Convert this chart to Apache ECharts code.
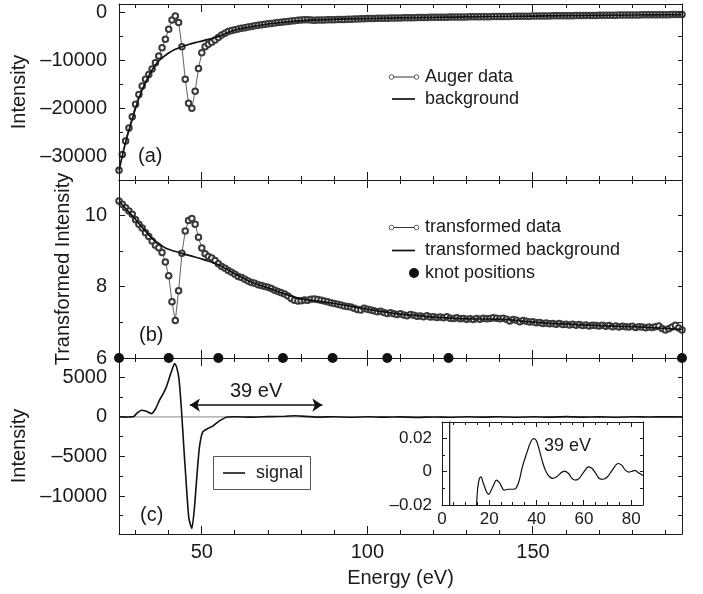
<!DOCTYPE html>
<html>
<head>
<meta charset="utf-8">
<script src="https://cdn.jsdelivr.net/npm/echarts@6/dist/echarts.min.js"></script>
<style>html,body{margin:0;padding:0;background:#fff}#chart{width:703px;height:594px}</style>
</head>
<body>
<div id="chart"></div>
<script>
// ---------- DATA ----------
const energy = [
25,26,27,28,29,30,31,32,33,34,35,36,37,38,39,40,41,42,43,44,
45,46,47,48,49,50,51,52,53,54,55,56,57,58,59,60,61,62,63,64,
65,66,67,68,69,70,71,72,73,74,75,76,77,78,79,80,81,82,83,84,
85,86,87,88,89,90,91,92,93,94,95,96,97,98,99,100,101,102,103,104,
105,106,107,108,109,110,111,112,113,114,115,116,117,118,119,120,121,122,123,124,
125,126,127,128,129,130,131,132,133,134,135,136,137,138,139,140,141,142,143,144,
145,146,147,148,149,150,151,152,153,154,155,156,157,158,159,160,161,162,163,164,
165,166,167,168,169,170,171,172,173,174,175,176,177,178,179,180,181,182,183,184,
185,186,187,188,189,190,191,192,193,194,195];

const augerData = [
-32800,-29500,-26700,-24000,-21700,-19100,-17050,-15300,-13900,-12900,
-11800,-10500,-9100,-7350,-5600,-3550,-1600,-800,-2150,-7150,
-13900,-18900,-19900,-16400,-11700,-8400,-7150,-6650,-6250,-5750,
-5250,-4750,-4350,-4000,-3820,-3650,-3500,-3350,-3200,-3080,
-2950,-2830,-2720,-2600,-2500,-2400,-2330,-2240,-2150,-2080,
-2000,-1930,-1850,-1760,-1680,-1620,-1580,-1590,-1620,-1650,
-1640,-1620,-1600,-1590,-1570,-1560,-1530,-1500,-1490,-1470,
-1450,-1420,-1400,-1370,-1350,-1330,-1310,-1300,-1280,-1260,
-1250,-1230,-1220,-1200,-1190,-1180,-1160,-1150,-1140,-1130,
-1120,-1100,-1090,-1080,-1070,-1060,-1050,-1045,-1035,-1030,
-1020,-1010,-1005,-995,-985,-975,-970,-960,-950,-945,
-935,-925,-920,-910,-900,-895,-885,-875,-870,-860,
-850,-845,-835,-825,-820,-810,-800,-795,-785,-780,
-770,-760,-755,-745,-735,-730,-720,-715,-705,-700,
-690,-680,-675,-665,-660,-650,-645,-635,-630,-620,
-615,-605,-600,-590,-585,-575,-570,-565,-555,-550,
-545,-535,-530,-525,-515,-510,-505,-500,-495,-490,-485];

const bgEnergy = [25,26,27,28,29,30,31,32,33,34,35,36,37,38,39,40,42,44,46,48,50,52,54,56,58,60,65,70,75,80,90,100,120,140,160,180,195];
const bgValues = [-32800,-29800,-27000,-24500,-22200,-19900,-17900,-16100,-14600,-13200,-12000,-11000,-10100,-9500,-8950,-8450,-7700,-7150,-6700,-6300,-6000,-5650,-5250,-4800,-4150,-3700,-3000,-2450,-2050,-1750,-1500,-1320,-1060,-890,-730,-580,-490];

const transformedData = [
10.41,10.32,10.22,10.13,10.04,9.88,9.76,9.65,9.52,9.41,
9.29,9.17,9.10,8.96,8.70,8.31,7.58,7.05,7.89,8.94,
9.57,9.86,9.92,9.76,9.39,9.09,8.93,8.85,8.81,8.74,
8.65,8.57,8.52,8.46,8.41,8.35,8.29,8.26,8.21,8.16,
8.12,8.10,8.06,8.04,8.01,7.99,7.95,7.90,7.87,7.83,
7.80,7.74,7.67,7.62,7.60,7.61,7.63,7.62,7.65,7.66,
7.64,7.62,7.60,7.58,7.55,7.53,7.51,7.49,7.46,7.45,
7.43,7.40,7.36,7.35,7.40,7.37,7.35,7.33,7.30,7.31,
7.28,7.25,7.27,7.24,7.22,7.24,7.21,7.19,7.22,7.20,
7.17,7.18,7.16,7.19,7.15,7.16,7.14,7.15,7.13,7.16,
7.12,7.11,7.13,7.10,7.11,7.09,7.10,7.08,7.11,7.09,
7.12,7.10,7.11,7.13,7.12,7.10,7.12,7.09,7.04,7.08,
7.06,7.02,7.05,7.03,7.01,7.02,6.99,7.00,6.97,6.98,
6.96,6.97,6.95,6.97,6.94,6.95,6.93,6.95,6.92,6.94,
6.91,6.93,6.90,6.92,6.91,6.90,6.92,6.89,6.91,6.88,
6.90,6.87,6.89,6.88,6.87,6.89,6.86,6.88,6.87,6.85,
6.87,6.86,6.88,6.90,6.83,6.79,6.82,6.87,6.92,6.84,6.79];

const tbgEnergy = [25,27,29,31,33,35,37,39,41,43,45,47,49,51,53,55,57,60,65,70,75,80,85,90,100,110,120,130,140,150,160,170,180,190,195];
const tbgValues = [10.41,10.20,10.00,9.78,9.56,9.35,9.22,9.09,9.02,8.97,8.91,8.86,8.81,8.75,8.69,8.62,8.52,8.36,8.13,7.97,7.80,7.66,7.60,7.53,7.37,7.23,7.15,7.10,7.09,7.01,6.95,6.91,6.88,6.83,6.80];

const knotEnergy = [25, 40, 55, 74.5, 89.5, 106, 124.5, 195];
const knotValue = [6, 6, 6, 6, 6, 6, 6, 6];

const signalEnergy = [25,26,27,28,29.3,30.5,31.8,33,34.8,36,37.2,38.3,39.3,40.8,41.8,42.4,43.1,43.8,44.5,45.3,46.1,47,47.8,48.5,49.3,50.3,51.8,53.3,55.3,57.8,60,65,70,75,78,80,85,90,95,100,105,110,115,120,125,130,135,140,145,150,155,160,165,170,175,180,185,190,195];
const signalValues = [0,10,-20,0,20,500,850,750,420,1000,2100,2900,3800,5700,6740,6300,4850,1260,-3360,-8410,-12830,-14100,-11370,-7580,-3790,-1890,-1470,-1170,-500,0,20,-30,40,80,150,100,-20,30,-40,20,-30,10,-50,0,-40,20,-20,30,-40,20,-30,40,-20,10,-40,30,-10,20,0];
const baselineEnergy = [25, 195];
const baselineValues = [0, 0];
const arrowEnergy = [46.4, 86.4];
const arrowLevel = 1500;
const arrowText = '39 eV';

const insetEnergy = [13.5,14.8,15.5,16.5,17.5,19.7,21.5,23.1,24.5,26.3,28,30,31.3,32.5,34,36,37.5,38.7,39.8,41,42.5,44,45.5,46.8,48.5,50,51.7,53.5,55,56.6,58,60,62,63.5,65,66.5,68.2,70,72,74.5,76,77.5,79,80.5,81.5,83,85];
const insetValues = [-0.06,-0.015,-0.006,-0.003,-0.007,-0.0136,-0.009,-0.005,-0.007,-0.011,-0.0105,-0.0105,-0.0098,-0.006,0.003,0.012,0.018,0.02,0.019,0.014,0.006,0.0,-0.003,-0.004,-0.003,-0.001,0.0004,-0.001,-0.004,-0.005,-0.004,0.0,0.003,0.002,-0.001,-0.004,-0.0045,-0.003,0.001,0.005,0.004,0.001,-0.0002,0.0004,0.0008,-0.0005,-0.0022];
const insetEdgeEnergy = [3.2, 3.3];
const insetEdgeValues = [0.5, -0.5];

const xMajor = [50, 100, 150];
const xMinor = [30, 40, 60, 70, 80, 90, 110, 120, 130, 140, 160, 170, 180, 190];
const aMajor = [0, -10000, -20000, -30000];
const aMinor = [-5000, -15000, -25000];
const bMajor = [6, 8, 10];
const bMinor = [7, 9];
const cMajor = [5000, 0, -5000, -10000];
const cMinor = [2500, -2500, -7500, -12500];
const iXMajor = [0, 20, 40, 60, 80];
const iXMinor = [5, 10, 15, 25, 30, 35, 45, 50, 55, 65, 70, 75];
const iYMajor = [-0.02, 0, 0.02];
const iYMinor = [-0.01, 0.01];

// ---------- STYLE / LAYOUT ----------
const FONT = "'Liberation Sans', Arial, Helvetica, sans-serif";
const C = '#1a1a1a';
const fmt = v => String(v).replace('-', '\u2013');
const pairs = (xs, ys) => xs.map((x, i) => [x, ys[i]]);

const X_RANGE = [25, 195];
const A_RANGE = [-34800, 1700];
const B_RANGE = [6, 11];
const C_RANGE = [-14800, 7450];
const IX_RANGE = [0, 85];
const IY_RANGE = [-0.02, 0.03];

const RECTS = [
  { left: 119, top: 4, width: 563, height: 176 },
  { left: 119, top: 180, width: 563, height: 178 },
  { left: 119, top: 358, width: 563, height: 176 },
  { left: 442, top: 422, width: 201, height: 83 }
];

function axis(grid, range, pos, labels, extra, labelSize, margin) {
  return Object.assign({
    type: 'value', gridIndex: grid, min: range[0], max: range[1], position: pos, z: 8,
    axisLine: { show: true, onZero: false, lineStyle: { color: C, width: 1 } },
    axisTick: { show: false },
    axisLabel: labels ? { show: true, customValues: labels, formatter: fmt, fontSize: labelSize || 20,
                 color: C, fontFamily: FONT, margin: margin == null ? 8 : margin } : { show: false },
    splitLine: { show: false }, minorTick: { show: false }, minorSplitLine: { show: false }
  }, extra || {});
}
const nameStyle = { fontSize: 20, color: C, fontFamily: FONT };

const xAxes = [
  axis(0, X_RANGE, 'bottom', null), axis(0, X_RANGE, 'top', null),
  axis(1, X_RANGE, 'bottom', null), axis(1, X_RANGE, 'top', null),
  axis(2, X_RANGE, 'bottom', xMajor, { name: 'Energy (eV)', nameLocation: 'middle', nameGap: 34, nameTextStyle: nameStyle }),
  axis(2, X_RANGE, 'top', null),
  axis(3, IX_RANGE, 'bottom', iXMajor, {}, 17, 6), axis(3, IX_RANGE, 'top', null)
];
const yAxes = [
  axis(0, A_RANGE, 'left', aMajor, { name: 'Intensity', nameLocation: 'middle', nameGap: 82, nameTextStyle: nameStyle }, 20, 12),
  axis(0, A_RANGE, 'right', null),
  axis(1, B_RANGE, 'left', bMajor, { name: 'Transformed Intensity', nameLocation: 'middle', nameGap: 44, nameTextStyle: nameStyle }, 20, 12),
  axis(1, B_RANGE, 'right', null),
  axis(2, C_RANGE, 'left', cMajor, { name: 'Intensity', nameLocation: 'middle', nameGap: 82, nameTextStyle: nameStyle }, 20, 12),
  axis(2, C_RANGE, 'right', null),
  axis(3, IY_RANGE, 'left', iYMajor, {}, 17, 10), axis(3, IY_RANGE, 'right', null)
];

const baseGraphic = [
  { type: 'text', style: { text: '(a)', x: 138, y: 156, font: '20px ' + FONT, fill: C, verticalAlign: 'middle' } },
  { type: 'text', style: { text: '(b)', x: 139, y: 335, font: '20px ' + FONT, fill: C, verticalAlign: 'middle' } },
  { type: 'text', style: { text: '(c)', x: 140, y: 515, font: '20px ' + FONT, fill: C, verticalAlign: 'middle' } },
  // legend a
  { type: 'line', shape: { x1: 391.5, y1: 77, x2: 416.5, y2: 77 }, style: { stroke: '#333', lineWidth: 1 } },
  { type: 'circle', shape: { cx: 391.5, cy: 77, r: 2.3 }, style: { fill: '#fff', stroke: '#333', lineWidth: 0.8 } },
  { type: 'circle', shape: { cx: 416.5, cy: 77, r: 2.3 }, style: { fill: '#fff', stroke: '#333', lineWidth: 0.8 } },
  { type: 'text', style: { text: 'Auger data', x: 425, y: 77, font: '18px ' + FONT, fill: C, verticalAlign: 'middle' } },
  { type: 'line', shape: { x1: 392, y1: 99, x2: 415, y2: 99 }, style: { stroke: '#111', lineWidth: 1.7 } },
  { type: 'text', style: { text: 'background', x: 425, y: 99, font: '18px ' + FONT, fill: C, verticalAlign: 'middle' } },
  // legend b
  { type: 'line', shape: { x1: 391.5, y1: 227.5, x2: 416.5, y2: 227.5 }, style: { stroke: '#333', lineWidth: 1 } },
  { type: 'circle', shape: { cx: 391.5, cy: 227.5, r: 2.3 }, style: { fill: '#fff', stroke: '#333', lineWidth: 0.8 } },
  { type: 'circle', shape: { cx: 416.5, cy: 227.5, r: 2.3 }, style: { fill: '#fff', stroke: '#333', lineWidth: 0.8 } },
  { type: 'text', style: { text: 'transformed data', x: 425, y: 227.5, font: '18px ' + FONT, fill: C, verticalAlign: 'middle' } },
  { type: 'line', shape: { x1: 392, y1: 250.5, x2: 415, y2: 250.5 }, style: { stroke: '#111', lineWidth: 1.7 } },
  { type: 'text', style: { text: 'transformed background', x: 425, y: 250.5, font: '18px ' + FONT, fill: C, verticalAlign: 'middle' } },
  { type: 'circle', shape: { cx: 414, cy: 273, r: 5 }, style: { fill: '#111' } },
  { type: 'text', style: { text: 'knot positions', x: 425, y: 273, font: '18px ' + FONT, fill: C, verticalAlign: 'middle' } },
  // legend c
  { type: 'rect', shape: { x: 213.5, y: 456.5, width: 97, height: 33 }, style: { fill: '#fff', stroke: '#555', lineWidth: 1 }, z: 20 },
  { type: 'line', shape: { x1: 223, y1: 473, x2: 245, y2: 473 }, style: { stroke: '#111', lineWidth: 1.6 }, z: 21 },
  { type: 'text', style: { text: 'signal', x: 256, y: 473, font: '18px ' + FONT, fill: C, verticalAlign: 'middle' }, z: 21 },
  // inset annotation
  { type: 'text', style: { text: '39 eV', x: 544, y: 446, font: '18px ' + FONT, fill: C, verticalAlign: 'middle' }, z: 30 }
];

const option = {
  animation: false,
  backgroundColor: '#fff',
  textStyle: { fontFamily: FONT, color: C },
  grid: RECTS.map(r => Object.assign({ containLabel: false, outerBoundsMode: 'none', show: false }, r)),
  xAxis: xAxes,
  yAxis: yAxes,
  series: [
    { name: 'Auger data', type: 'line', xAxisIndex: 0, yAxisIndex: 0, data: pairs(energy, augerData),
      symbol: 'emptyCircle', symbolSize: 5.5, clip: false,
      lineStyle: { color: '#3a3a3a', width: 0.8 }, itemStyle: { color: '#3a3a3a', borderWidth: 0.7 }, z: 3 },
    { name: 'background', type: 'line', xAxisIndex: 0, yAxisIndex: 0, data: pairs(bgEnergy, bgValues),
      symbol: 'none', smooth: 0.3, lineStyle: { color: '#111', width: 1.7 }, z: 4 },
    { name: 'transformed data', type: 'line', xAxisIndex: 2, yAxisIndex: 2, data: pairs(energy, transformedData),
      symbol: 'emptyCircle', symbolSize: 5.5, clip: false,
      lineStyle: { color: '#3a3a3a', width: 0.8 }, itemStyle: { color: '#3a3a3a', borderWidth: 0.7 }, z: 3 },
    { name: 'transformed background', type: 'line', xAxisIndex: 2, yAxisIndex: 2, data: pairs(tbgEnergy, tbgValues),
      symbol: 'none', smooth: 0.3, lineStyle: { color: '#111', width: 1.7 }, z: 4 },
    { name: 'knot positions', type: 'scatter', xAxisIndex: 2, yAxisIndex: 2, data: pairs(knotEnergy, knotValue),
      symbol: 'circle', symbolSize: 10, clip: false, itemStyle: { color: '#111', opacity: 1 }, z: 10 },
    { name: 'zero', type: 'line', xAxisIndex: 4, yAxisIndex: 4, data: pairs(baselineEnergy, baselineValues),
      symbol: 'none', lineStyle: { color: '#888', width: 1 }, z: 2 },
    { name: 'signal', type: 'line', xAxisIndex: 4, yAxisIndex: 4, data: pairs(signalEnergy, signalValues),
      symbol: 'none', smooth: 0.2, lineStyle: { color: '#111', width: 1.6 }, z: 4,
      markLine: { silent: true, symbol: ['arrow', 'arrow'], symbolSize: 10,
        lineStyle: { color: '#111', width: 1.6, type: 'solid' },
        label: { show: true, position: 'middle', formatter: arrowText, fontSize: 20, color: C, fontFamily: FONT, distance: 4 },
        data: [[{ coord: [arrowEnergy[0], arrowLevel] }, { coord: [arrowEnergy[1], arrowLevel] }]] } },
    { name: 'inset edge', type: 'line', xAxisIndex: 6, yAxisIndex: 6, data: pairs(insetEdgeEnergy, insetEdgeValues),
      symbol: 'none', clip: true, lineStyle: { color: '#111', width: 1.2 }, z: 6 },
    { name: 'inset', type: 'line', xAxisIndex: 6, yAxisIndex: 6, data: pairs(insetEnergy, insetValues),
      symbol: 'none', smooth: 0.35, clip: true, lineStyle: { color: '#111', width: 1.2 }, z: 6 }
  ],
  graphic: baseGraphic
};

const chart = echarts.init(document.getElementById('chart'), null, { renderer: 'canvas' });
chart.setOption(option);

// ---------- inward ticks on all four sides, placed through the axes' own scales ----------
const tickSpec = [
  { g: 0, xi: 0, yi: 0, xMaj: xMajor, xMin: xMinor, yMaj: aMajor, yMin: aMinor, xl: [8, 4], yl: [6, 4] },
  { g: 1, xi: 2, yi: 2, xMaj: xMajor, xMin: xMinor, yMaj: bMajor, yMin: bMinor, xl: [8, 4], yl: [6, 4] },
  { g: 2, xi: 4, yi: 4, xMaj: xMajor, xMin: xMinor, yMaj: cMajor, yMin: cMinor, xl: [8, 4], yl: [6, 4] },
  { g: 3, xi: 6, yi: 6, xMaj: iXMajor, xMin: iXMinor, yMaj: iYMajor, yMin: iYMinor, xl: [5, 3], yl: [5, 3] }
];
const tickEls = [];
const crisp = v => Math.round(v - 0.5) + 0.5;
function seg(x1, y1, x2, y2) {
  tickEls.push({ type: 'line', silent: true, z: 9, shape: { x1, y1, x2, y2 }, style: { stroke: C, lineWidth: 1 } });
}
tickSpec.forEach(s => {
  const r = RECTS[s.g];
  const top = r.top, bottom = r.top + r.height, left = r.left, right = r.left + r.width;
  const xs = [[s.xMaj, s.xl[0]], [s.xMin, s.xl[1]]];
  xs.forEach(([vals, len]) => vals.forEach(v => {
    const px = crisp(chart.convertToPixel({ xAxisIndex: s.xi }, v));
    if (px < left - 0.5 || px > right + 0.5) return;
    seg(px, bottom, px, bottom - len);
    seg(px, top, px, top + len);
  }));
  const ys = [[s.yMaj, s.yl[0], s.yl[1]], [s.yMin, s.yl[1], s.yl[1]]];
  ys.forEach(([vals, lenL, lenR]) => vals.forEach(v => {
    const py = crisp(chart.convertToPixel({ yAxisIndex: s.yi }, v));
    if (py < top - 0.5 || py > bottom + 0.5) return;
    seg(left, py, left + lenL, py);
    seg(right, py, right - lenR, py);
  }));
});
chart.setOption({ graphic: baseGraphic.concat(tickEls) });
</script>
</body>
</html>
